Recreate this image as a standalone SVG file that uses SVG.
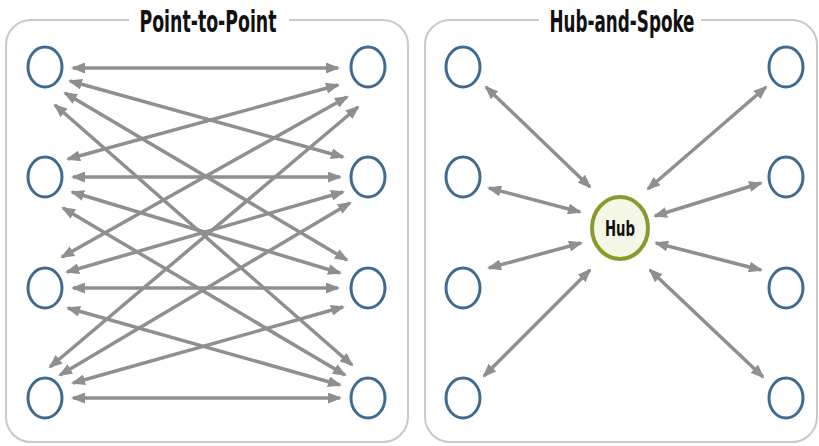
<svg xmlns="http://www.w3.org/2000/svg" width="819" height="446" viewBox="0 0 819 446">
<defs>
<marker id="ah" markerUnits="userSpaceOnUse" markerWidth="14" markerHeight="11" refX="12" refY="5.5" orient="auto-start-reverse">
<path d="M0,0 L14,5.5 L0,11 z" fill="#8f8f8f"/>
</marker>
</defs>
<style>
.panel{fill:#ffffff;stroke:#c9c9c9;stroke-width:2}
.gap{fill:#ffffff}
.title{font-family:"DejaVu Sans",sans-serif;font-stretch:condensed;font-weight:bold;font-size:30px;fill:#111111}
.node{fill:#ffffff;stroke:#3f6b8f;stroke-width:3}
.hub{fill:#f4f7e6;stroke:#8a9a2c;stroke-width:4}
.hubt{font-family:"DejaVu Sans",sans-serif;font-stretch:condensed;font-weight:bold;font-size:22px;fill:#111111}
.c{stroke:#8f8f8f;stroke-width:3.5;fill:none;marker-start:url(#ah);marker-end:url(#ah)}
</style>
<rect width="819" height="446" fill="#ffffff"/>
<g id="panel-p2p">
<rect class="panel" x="6" y="20" width="402" height="422" rx="25"/>
<rect class="gap" x="129" y="6" width="160" height="28"/>
<text class="title" x="208" y="32" text-anchor="middle" textLength="137" lengthAdjust="spacingAndGlyphs">Point-to-Point</text>
</g>
<g id="panel-hub">
<rect class="panel" x="425" y="20" width="392" height="422" rx="25"/>
<rect class="gap" x="539" y="6" width="162" height="28"/>
<text class="title" x="622" y="32" text-anchor="middle" textLength="145" lengthAdjust="spacingAndGlyphs">Hub-and-Spoke</text>
</g>
<g id="connectors">
<line class="c" x1="73" y1="68" x2="338" y2="68"/>
<line class="c" x1="70" y1="81" x2="343" y2="157"/>
<line class="c" x1="65" y1="93" x2="347" y2="260"/>
<line class="c" x1="55" y1="105" x2="352" y2="365"/>
<line class="c" x1="68" y1="159" x2="338" y2="85"/>
<line class="c" x1="73" y1="177" x2="340" y2="177"/>
<line class="c" x1="72" y1="192" x2="340" y2="273"/>
<line class="c" x1="63" y1="208" x2="345" y2="375"/>
<line class="c" x1="62" y1="257" x2="347" y2="97"/>
<line class="c" x1="67" y1="272" x2="343" y2="192"/>
<line class="c" x1="73" y1="288" x2="338" y2="288"/>
<line class="c" x1="68" y1="308" x2="340" y2="385"/>
<line class="c" x1="50" y1="367" x2="358" y2="107"/>
<line class="c" x1="60" y1="375" x2="350" y2="203"/>
<line class="c" x1="73" y1="383" x2="343" y2="307"/>
<line class="c" x1="73" y1="398" x2="340" y2="398"/>
<line class="c" x1="486" y1="87" x2="590" y2="187"/>
<line class="c" x1="489" y1="188" x2="580" y2="212"/>
<line class="c" x1="489" y1="268" x2="581" y2="243"/>
<line class="c" x1="484" y1="376" x2="590" y2="270"/>
<line class="c" x1="766" y1="87" x2="648" y2="189"/>
<line class="c" x1="761" y1="183" x2="655" y2="216"/>
<line class="c" x1="761" y1="270" x2="656" y2="243"/>
<line class="c" x1="763" y1="377" x2="650" y2="270"/>
</g>
<g id="p2p-l1"><ellipse class="node" cx="45" cy="67" rx="17" ry="20"/></g>
<g id="p2p-l2"><ellipse class="node" cx="45" cy="177" rx="17" ry="20"/></g>
<g id="p2p-l3"><ellipse class="node" cx="45" cy="288" rx="17" ry="20"/></g>
<g id="p2p-l4"><ellipse class="node" cx="45" cy="398" rx="17" ry="20"/></g>
<g id="p2p-r1"><ellipse class="node" cx="368" cy="67" rx="17" ry="20"/></g>
<g id="p2p-r2"><ellipse class="node" cx="368" cy="177" rx="17" ry="20"/></g>
<g id="p2p-r3"><ellipse class="node" cx="368" cy="288" rx="17" ry="20"/></g>
<g id="p2p-r4"><ellipse class="node" cx="368" cy="398" rx="17" ry="20"/></g>
<g id="hs-l1"><ellipse class="node" cx="463" cy="67" rx="17" ry="20"/></g>
<g id="hs-l2"><ellipse class="node" cx="463" cy="177" rx="17" ry="20"/></g>
<g id="hs-l3"><ellipse class="node" cx="463" cy="288" rx="17" ry="20"/></g>
<g id="hs-l4"><ellipse class="node" cx="463" cy="398" rx="17" ry="20"/></g>
<g id="hs-r1"><ellipse class="node" cx="786" cy="67" rx="17" ry="20"/></g>
<g id="hs-r2"><ellipse class="node" cx="786" cy="177" rx="17" ry="20"/></g>
<g id="hs-r3"><ellipse class="node" cx="786" cy="288" rx="17" ry="20"/></g>
<g id="hs-r4"><ellipse class="node" cx="786" cy="398" rx="17" ry="20"/></g>
<g id="hub">
<ellipse class="hub" cx="620" cy="228" rx="28" ry="31"/>
<text class="hubt" x="620" y="236" text-anchor="middle" textLength="30" lengthAdjust="spacingAndGlyphs">Hub</text>
</g>
</svg>
